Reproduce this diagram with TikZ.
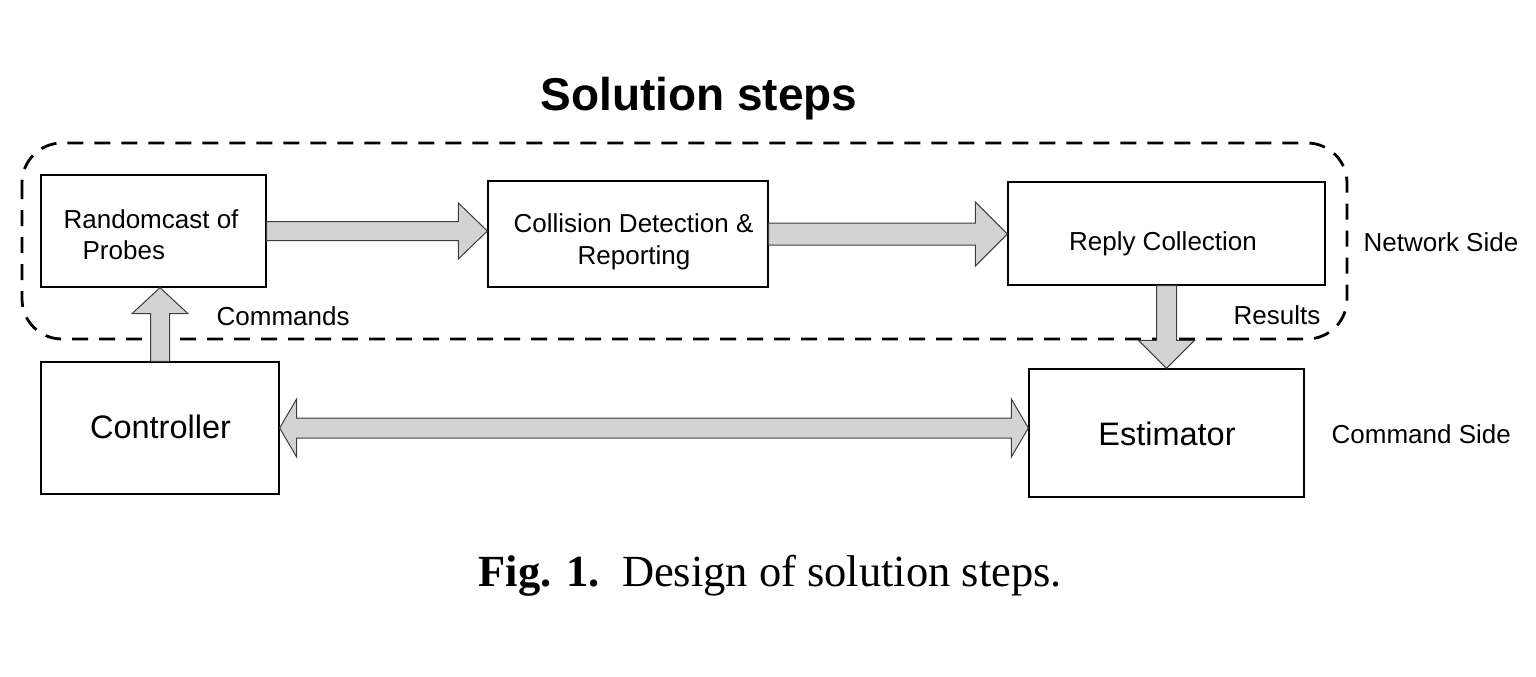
\documentclass[tikz,border=0pt]{standalone}
\usepackage{fontspec}
\setmainfont{Liberation Serif}
\setsansfont{Liberation Sans}
\usetikzlibrary{calc}

\definecolor{arrowfill}{RGB}{211,211,211}
\definecolor{arrowline}{RGB}{60,60,60}

\tikzset{every picture/.style={line width=1.3pt}}
\tikzset{
  stepbox/.style={draw, rectangle, inner sep=0pt},
  steptext/.style={inner sep=0pt, font=\sffamily\fontsize{26}{31}\selectfont},
  bigtext/.style={inner sep=0pt, font=\sffamily\fontsize{32.5}{39}\selectfont},
  blockarrow/.style={draw=arrowline, fill=arrowfill, line width=1pt},
  sidebox/.style={draw, dash pattern=on 16pt off 11pt, line width=2.8pt, rounded corners=40pt}
}

% block arrow: from, to, half shaft, half head, head length
\newcommand{\blockarrow}[5]{%
  \coordinate (ba-b) at ($(#2)!#5!(#1)$);
  \draw[blockarrow] ($(#1)!#3!90:(#2)$) -- ($(ba-b)!#3!-90:(#1)$) -- ($(ba-b)!#4!-90:(#1)$) -- (#2) -- ($(ba-b)!#4!90:(#1)$) -- ($(ba-b)!#3!90:(#1)$) -- ($(#1)!#3!-90:(#2)$) -- cycle;
}
% same, with a head at both ends
\newcommand{\dblblockarrow}[5]{%
  \coordinate (ba-a) at ($(#1)!#5!(#2)$);
  \coordinate (ba-b) at ($(#2)!#5!(#1)$);
  \draw[blockarrow] (#1) -- ($(ba-a)!#4!90:(#2)$) -- ($(ba-a)!#3!90:(#2)$) -- ($(ba-b)!#3!-90:(#1)$) -- ($(ba-b)!#4!-90:(#1)$) -- (#2) -- ($(ba-b)!#4!90:(#1)$) -- ($(ba-b)!#3!90:(#1)$) -- ($(ba-a)!#3!-90:(#2)$) -- ($(ba-a)!#4!-90:(#2)$) -- cycle;
}

\begin{document}
\begin{tikzpicture}[x=1pt,y=1pt,yscale=-1,xscale=1]
\useasboundingbox (0,0) rectangle (1536,677);

%Dashed outline [network side]
\draw[sidebox] (22,143) rectangle (1347,339);

%Boxes
\node[stepbox, minimum width=225pt, minimum height=112pt] (rand) at (153.5,231) {};
\node[stepbox, minimum width=280pt, minimum height=106pt] (coll) at (628,234) {};
\node[stepbox, minimum width=317pt, minimum height=103pt] (reply) at (1166.5,233.5) {};
\node[stepbox, minimum width=238pt, minimum height=132pt] (ctrl) at (160,428) {};
\node[stepbox, minimum width=275pt, minimum height=128pt] (est) at (1166.5,433) {};

%Tips of the arrows
\coordinate (randtip) at (rand.east -| coll.west);
\coordinate (colltip) at (coll.east -| reply.west);
\coordinate (uptip) at (ctrl.north |- rand.south);
\coordinate (downtip) at (reply.south |- est.north);
\coordinate (esttip) at (ctrl.east -| est.west);

%Block arrows
\blockarrow{rand.east}{randtip}{9.5pt}{28pt}{29pt}
\blockarrow{coll.east}{colltip}{11pt}{32pt}{32pt}
\blockarrow{ctrl.north}{uptip}{9.5pt}{28pt}{26pt}
\blockarrow{reply.south}{downtip}{10pt}{28pt}{28pt}
\dblblockarrow{ctrl.east}{esttip}{10pt}{29pt}{17pt}

% Text Node
\node[anchor=base, inner sep=0pt, font=\sffamily\bfseries\fontsize{46}{55}\selectfont] (title) at (699,110) {Solution steps};
% Text Node
\node[steptext, anchor=base west] (randa) at (63,228) {Randomcast of};
\node[steptext, anchor=base west] (randb) at (82,259) {Probes};
% Text Node
\node[steptext, anchor=base] (colla) at (633.5,232) {Collision Detection \&};
\node[steptext, anchor=base] (collb) at (634,264) {Reporting};
% Text Node
\node[steptext, anchor=base] (replytxt) at (1163,250) {Reply Collection};
% Text Node
\node[steptext, anchor=base west] (network) at (1363,251) {Network Side};
% Text Node
\node[steptext, anchor=base west] (commands) at (216,325) {Commands};
% Text Node
\node[steptext, anchor=base west] (results) at (1233,324) {Results};
% Text Node
\node[bigtext, anchor=base] (ctrltxt) at (160.5,438) {Controller};
% Text Node
\node[bigtext, anchor=base] (esttxt) at (1167,445) {Estimator};
% Text Node
\node[steptext, anchor=base west] (command) at (1331,443) {Command Side};
% Text Node
\node[anchor=base west, inner sep=0pt, font=\fontsize{44.5}{53}\selectfont] (caption) at (478,586) {\textbf{Fig. 1.}\enspace Design of solution steps.};

\end{tikzpicture}
\end{document}
